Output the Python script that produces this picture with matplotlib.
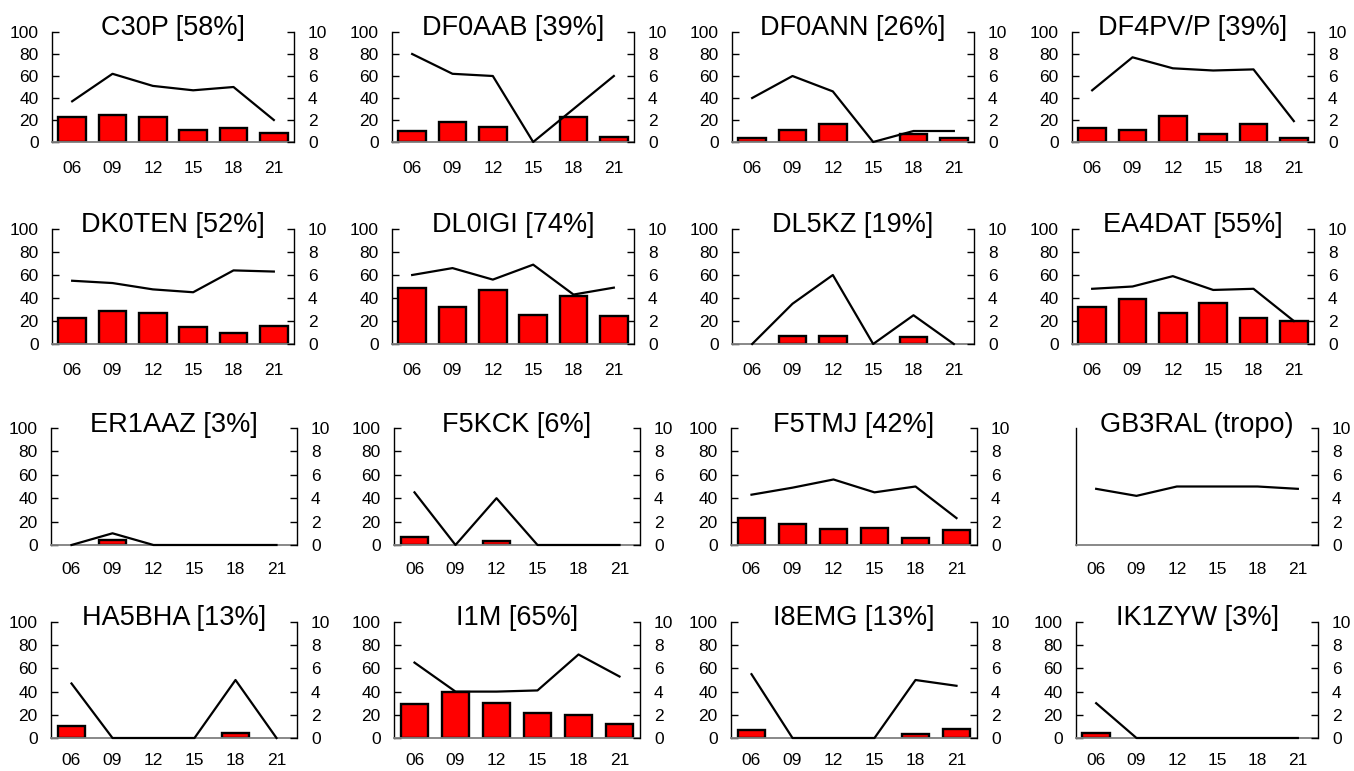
import matplotlib
matplotlib.use("Agg")
import matplotlib.pyplot as plt
import numpy as np

plt.rcParams['font.family'] = ['Liberation Sans', 'DejaVu Sans']

hours = ["06", "09", "12", "15", "18", "21"]

titles = [
    "C30P [58%]", "DF0AAB [39%]", "DF0ANN [26%]", "DF4PV/P [39%]",
    "DK0TEN [52%]", "DL0IGI [74%]", "DL5KZ [19%]", "EA4DAT [55%]",
    "ER1AAZ [3%]", "F5KCK [6%]", "F5TMJ [42%]", "GB3RAL (tropo)",
    "HA5BHA [13%]", "I1M [65%]", "I8EMG [13%]", "IK1ZYW [3%]",
]

# bars, left axis (0-100)
c30p_bar = [23, 25, 23, 11, 13, 8]
df0aab_bar = [10, 18, 14, 0, 23, 5]
df0ann_bar = [3.3, 11, 16.5, 0, 7, 4]
df4pv_bar = [13, 10.5, 23.6, 7.5, 16, 4]
dk0ten_bar = [23, 28.4, 26.7, 14.7, 9.7, 15.8]
dl0igi_bar = [48.7, 32.3, 46.9, 25.2, 41.9, 24]
dl5kz_bar = [0, 7, 7, 0, 6.5, 0]
ea4dat_bar = [32.2, 39.4, 26.7, 35.7, 22.9, 19.7]
er1aaz_bar = [0, 4, 0, 0, 0, 0]
f5kck_bar = [7, 0, 3, 0, 0, 0]
f5tmj_bar = [22.8, 18, 13.3, 14.4, 6.4, 12.5]
gb3ral_bar = None
ha5bha_bar = [10, 0, 0, 0, 4, 0]
i1m_bar = [29.1, 39.4, 30, 21.7, 19.4, 12.3]
i8emg_bar = [6.6, 0, 0, 0, 3.7, 8]
ik1zyw_bar = [4, 0, 0, 0, 0, 0]

# lines, right axis (0-10)
c30p_line = [3.7, 6.2, 5.1, 4.7, 5.0, 2.0]
df0aab_line = [8.0, 6.2, 6.0, 0, 3.0, 6.0]
df0ann_line = [4.0, 6.0, 4.6, 0, 1.0, 1.0]
df4pv_line = [4.7, 7.7, 6.7, 6.5, 6.6, 1.9]
dk0ten_line = [5.5, 5.3, 4.75, 4.5, 6.4, 6.3]
dl0igi_line = [6.0, 6.6, 5.6, 6.9, 4.3, 4.9]
dl5kz_line = [0, 3.5, 6.0, 0, 2.5, 0]
ea4dat_line = [4.8, 5.0, 5.9, 4.7, 4.8, 2.0]
er1aaz_line = [0, 1.0, 0, 0, 0, 0]
f5kck_line = [4.5, 0, 4.0, 0, 0, 0]
f5tmj_line = [4.3, 4.9, 5.6, 4.5, 5.0, 2.3]
gb3ral_line = [4.8, 4.2, 5.0, 5.0, 5.0, 4.8]
ha5bha_line = [4.7, 0, 0, 0, 5.0, 0]
i1m_line = [6.5, 4.0, 4.0, 4.1, 7.2, 5.3]
i8emg_line = [5.5, 0, 0, 0, 5.0, 4.5]
ik1zyw_line = [3.0, 0, 0, 0, 0, 0]

bars = [c30p_bar, df0aab_bar, df0ann_bar, df4pv_bar,
        dk0ten_bar, dl0igi_bar, dl5kz_bar, ea4dat_bar,
        er1aaz_bar, f5kck_bar, f5tmj_bar, gb3ral_bar,
        ha5bha_bar, i1m_bar, i8emg_bar, ik1zyw_bar]
lines = [c30p_line, df0aab_line, df0ann_line, df4pv_line,
         dk0ten_line, dl0igi_line, dl5kz_line, ea4dat_line,
         er1aaz_line, f5kck_line, f5tmj_line, gb3ral_line,
         ha5bha_line, i1m_line, i8emg_line, ik1zyw_line]

W, H = 1354, 771
fig = plt.figure(figsize=(W / 100, H / 100), dpi=100)

# panel placement in pixels
col_left = [[52, 392, 732, 1072], [52, 392, 732, 1072],
            [51, 394, 731, 1076], [51, 394, 731, 1076]]
col_width = [242, 242, 246, 246]
rows = [(32, 142), (229, 344), (428, 545), (622, 738)]
xpad = [14, 14, 12, 11]

x = np.arange(len(hours))

for i in range(16):
    r, c = divmod(i, 4)
    top, bot = rows[r]
    w = col_width[r] - (4 if c == 3 and r >= 2 else 0)
    ax = fig.add_axes([col_left[r][c] / W, 1 - bot / H,
                       w / W, (bot - top) / H])
    ax2 = ax.twinx()

    b = bars[i]
    if b is not None:
        vals = np.array(b, dtype=float)
        keep = vals > 0
        ax.bar(x[keep], vals[keep], width=0.68, color='#ff0000',
               edgecolor='black', linewidth=1.7, zorder=2)
    ax2.plot(x, lines[i], color='black', linewidth=1.6, clip_on=False, zorder=3)

    ax.set_xlim(-0.5, 5.5)
    ax.set_ylim(0, 100)
    ax2.set_ylim(0, 10)
    ax.set_yticks(range(0, 101, 20))
    ax2.set_yticks(range(0, 11, 2))
    ax.set_xticks(x)
    ax.set_xticklabels(hours)

    for a in (ax, ax2):
        a.spines['top'].set_visible(False)
        a.patch.set_visible(False)
    ax.spines['right'].set_visible(False)
    ax2.spines['left'].set_visible(False)
    ax2.spines['bottom'].set_visible(False)
    ax.spines['bottom'].set_color('#7f7f7f')
    ax.spines['bottom'].set_linewidth(1.3)
    ax.spines['left'].set_linewidth(1.0)
    ax2.spines['right'].set_linewidth(1.0)

    ax.tick_params(axis='y', direction='in', length=5, width=1,
                   pad=9.5, labelsize=12.5)
    ax2.tick_params(axis='y', direction='in', length=5, width=1,
                    pad=10, labelsize=12.5)
    ax.tick_params(axis='x', length=0, pad=xpad[r], labelsize=12.5)

    if b is None:
        ax.tick_params(axis='y', length=0, labelleft=False)

    ax.text(0.5, 0.97, titles[i], transform=ax.transAxes, ha='center',
            va='baseline', fontsize=19.5)

fig.savefig("out.png", dpi=100)
